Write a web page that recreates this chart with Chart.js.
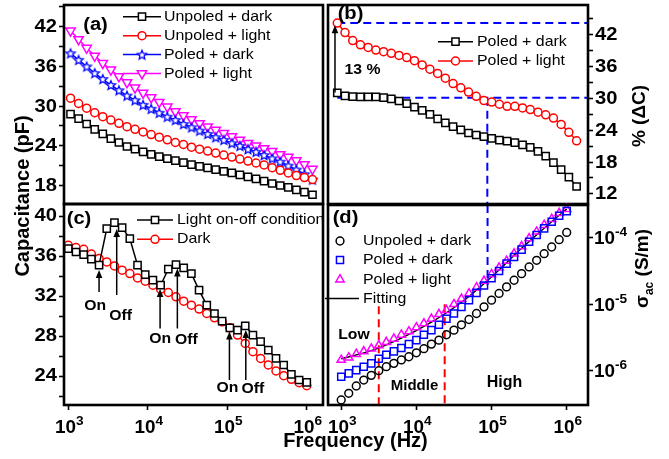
<!DOCTYPE html>
<html>
<head>
<meta charset="utf-8">
<script src="https://cdn.jsdelivr.net/npm/chart.js"></script>
<style>
html,body{margin:0;padding:0;background:#fff;}
#wrap{position:relative;width:669px;height:459px;overflow:hidden;background:#fff;}
#wrap canvas{position:absolute;left:0;top:0;}
</style>
</head>
<body>
<div id="wrap">
<canvas id="cA" width="669" height="459"></canvas>
<canvas id="cB" width="669" height="459"></canvas>
<canvas id="cC" width="669" height="459"></canvas>
<canvas id="cD" width="669" height="459"></canvas>
</div>
<script>
// ================= DATA =================
// Frequencies (Hz)
const freqA = [1000,1259,1585,1995,2512,3162,3981,5012,6310,7943,10000,12589,15849,19953,25119,31623,39811,50119,63096,79433,100000,125893,158489,199526,251189,316228,398107,501187,630957,794328,1000000];
const freqC = [1000,1250,1561,1951,2438,3047,3807,4757,5944,7430,9284,11601,14497,18116,22637,28290,35350,44173,55200,68970,86190,107700,134600,168200,210200,262600,328100,410100,512400,640400,800200,1000000];

// (a) Capacitance (pF)
const unpoledDarkA  = [28.8,28.1,27.3,26.5,25.8,25.1,24.5,23.9,23.5,23.1,22.7,22.35,22.05,21.75,21.45,21.15,20.9,20.65,20.4,20.15,19.9,19.6,19.3,19.0,18.65,18.3,18.0,17.7,17.35,17.0,16.6];
const unpoledLightA = [31.2,30.4,29.7,29.0,28.4,27.9,27.4,26.9,26.5,26.1,25.7,25.3,24.9,24.5,24.2,23.8,23.5,23.2,22.9,22.6,22.3,22.0,21.7,21.4,21.1,20.7,20.3,19.9,19.5,19.2,18.9];
const poledDarkA    = [38.0,37.0,36.0,35.0,34.1,33.2,32.4,31.6,30.9,30.2,29.6,29.0,28.4,27.9,27.3,26.8,26.3,25.8,25.3,24.9,24.4,24.0,23.5,23.1,22.6,22.1,21.6,21.0,20.4,19.7,18.9];
const poledLightA   = [41.4,40.1,38.8,37.6,36.5,35.5,34.5,33.6,32.8,32.0,31.3,30.6,29.9,29.2,28.6,28.0,27.4,26.9,26.4,25.9,25.4,24.9,24.4,24.0,23.6,23.2,22.7,22.3,21.8,21.2,20.5];

// (b) % (ΔC)
const poledDarkB  = [31.03,30.46,30.33,30.27,30.27,30.27,30.14,29.89,29.51,29.0,28.37,27.73,26.97,26.15,25.39,24.69,24.05,23.48,23.10,22.79,22.47,22.15,21.96,21.65,21.26,20.76,20.0,19.11,17.90,16.57,15.18,13.40];
const poledLightB = [44.2,42.4,40.9,40.1,39.6,39.1,38.8,38.5,38.1,37.7,37.1,36.3,35.5,34.7,33.8,32.8,32.0,31.2,30.4,29.6,29.3,28.9,28.5,28.5,28.2,27.9,27.4,26.9,26.3,25.1,23.6,22.0];
const refLevelsB = [44.2, 30.1];
const refFreqB = 76000;
const arrowB = [936, 31.1, 43.8];           // freq, base, tip

// (c) Capacitance (pF)
const lightOnOffC = [36.74,36.4,36.14,35.68,35.08,38.74,39.33,38.84,37.74,35.08,34.14,33.58,33.08,34.68,35.14,34.81,34.24,32.58,31.08,30.25,29.49,28.82,28.59,29.02,28.09,27.43,26.59,25.76,25.10,24.17,23.6,23.37];
const darkC       = [37.07,36.85,36.67,36.2,35.74,35.41,35.01,34.58,34.24,33.81,33.48,33.08,32.68,32.35,31.92,31.48,31.08,30.69,30.25,29.82,29.42,28.82,28.09,27.26,26.43,25.76,25.10,24.50,24.03,23.67,23.33,23.03];
const arrowFreqC = [2438, 4065, 14280, 23550, 106400, 171000];
const arrowBaseC = [32.4, 32.1, 28.75, 28.75, 23.6, 23.6];
const arrowTipC  = [34.6, 38.7, 32.7, 34.75, 28.45, 28.6];
const arrowTextC = ['On','Off','On','Off','On','Off'];

// (d) σac (S/m)
const unpoledDarkD = [3.63e-7,4.57e-7,5.89e-7,7.24e-7,8.51e-7,1.00e-6,1.15e-6,1.29e-6,1.45e-6,1.62e-6,1.86e-6,2.14e-6,2.51e-6,2.88e-6,3.47e-6,4.07e-6,4.90e-6,5.89e-6,7.24e-6,9.12e-6,1.15e-5,1.45e-5,1.82e-5,2.29e-5,2.88e-5,3.63e-5,4.57e-5,5.75e-5,7.24e-5,9.33e-5,1.20e-4];
const poledDarkD   = [8.13e-7,9.12e-7,1.02e-6,1.15e-6,1.29e-6,1.51e-6,1.74e-6,1.95e-6,2.19e-6,2.51e-6,2.88e-6,3.47e-6,4.07e-6,4.90e-6,6.03e-6,7.24e-6,9.12e-6,1.15e-5,1.48e-5,1.91e-5,2.45e-5,3.16e-5,4.07e-5,5.13e-5,6.61e-5,8.71e-5,1.10e-4,1.38e-4,1.74e-4,2.14e-4,2.51e-4];
const poledLightD  = [1.45e-6,1.58e-6,1.78e-6,1.95e-6,2.14e-6,2.40e-6,2.69e-6,3.02e-6,3.47e-6,3.89e-6,4.47e-6,5.13e-6,6.03e-6,7.08e-6,8.13e-6,1.00e-5,1.20e-5,1.45e-5,1.78e-5,2.24e-5,2.82e-5,3.55e-5,4.47e-5,5.75e-5,7.41e-5,9.77e-5,1.23e-4,1.55e-4,1.91e-4,2.34e-4,2.69e-4];
const fitFreqD = [1000, 2512, 6310, 15849, 39811, 100000, 251189, 630957, 1000000];
const fitD     = [1.51e-6, 2.0e-6, 3.09e-6, 5.37e-6, 1.07e-5, 2.57e-5, 6.92e-5, 1.74e-4, 2.69e-4];
const regionFreqD = [3160, 23800];
const regionTopD  = [9.3e-6, 1.0e-5];
const refFreqD = 88500;
const refBottomD = 1.95e-5;

// Tick values / labels
const xTicksLog = [1e3, 1e4, 1e5, 1e6];
const yTicksA = [18,21,24,27,30,33,36,39,42,45], yLabelsA = [18,24,30,36,42];
const yTicksB = [12,15,18,21,24,27,30,33,36,39,42,45], yLabelsB = [12,18,24,30,36,42];
const yTicksC = [22,24,26,28,30,32,34,36,38,40], yLabelsC = [24,28,32,36,40];
const yTicksD = [1e-6, 1e-5, 1e-4];

// Axis ranges
const rangeXA = [830, 1.35e6],  rangeYA = [15.2, 45.3];
const rangeXB = [765, 1.39e6],  rangeYB = [10.1, 47.6];
const rangeXC = [883, 1.6e6],   rangeYC = [21.1, 41.2];
const rangeXD = [667, 1.92e6],  rangeYD = [3.05e-7, 3.1e-4];

// ================= HELPERS =================
const FONT = '"Liberation Sans", Arial, Helvetica, sans-serif';
const BLACK = '#000000', RED = '#ff0000', BLUE = '#0000ff', MAG = '#ff00ff';

function txt(ctx, s, x, y, o) {
  o = o || {};
  ctx.save();
  ctx.translate(x, y);
  if (o.rot) ctx.rotate(o.rot);
  ctx.scale(o.sx || 1, 1);
  ctx.font = (o.bold === false ? '' : 'bold ') + (o.size || 18) + 'px ' + FONT;
  ctx.fillStyle = o.color || '#000';
  ctx.textAlign = o.align || 'center';
  ctx.textBaseline = o.base || 'middle';
  ctx.fillText(s, 0, 0);
  ctx.restore();
}
function rich(ctx, segs, x, y, o) {
  o = o || {};
  ctx.save();
  ctx.translate(x, y);
  if (o.rot) ctx.rotate(o.rot);
  ctx.scale(o.sx || 1, 1);
  ctx.fillStyle = o.color || '#000';
  ctx.textAlign = 'left';
  ctx.textBaseline = 'alphabetic';
  const fonts = segs.map(s => (s.bold === false ? '' : 'bold ') + s.size + 'px ' + FONT);
  const widths = segs.map((s, i) => { ctx.font = fonts[i]; return ctx.measureText(s.t).width; });
  const total = widths.reduce((a, b) => a + b, 0);
  let cx = o.align === 'center' ? -total / 2 : (o.align === 'right' ? -total : 0);
  segs.forEach((s, i) => { ctx.font = fonts[i]; ctx.fillText(s.t, cx, s.dy || 0); cx += widths[i]; });
  ctx.restore();
}
function arrowUp(ctx, x, yBase, yTip) {
  const hl = 8, hw = 3.3;
  ctx.save();
  ctx.strokeStyle = '#000'; ctx.fillStyle = '#000'; ctx.lineWidth = 1.5;
  ctx.beginPath(); ctx.moveTo(x, yBase); ctx.lineTo(x, yTip + hl - 1); ctx.stroke();
  ctx.beginPath(); ctx.moveTo(x, yTip); ctx.lineTo(x - hw, yTip + hl); ctx.lineTo(x + hw, yTip + hl); ctx.closePath(); ctx.fill();
  ctx.restore();
}
function frame(chart) {
  const a = chart.chartArea, ctx = chart.ctx;
  ctx.save(); ctx.strokeStyle = '#000'; ctx.lineWidth = 2.6;
  ctx.strokeRect(a.left, a.top, a.right - a.left, a.bottom - a.top);
  ctx.restore();
}
function marker(ctx, ds, x, y) {
  ctx.save();
  ctx.strokeStyle = ds.pointBorderColor; ctx.fillStyle = ds.pointBackgroundColor; ctx.lineWidth = ds.pointBorderWidth;
  const opts = {pointStyle: ds.pointStyle, rotation: ds.pointRotation || 0, radius: ds.pointRadius, borderWidth: ds.pointBorderWidth};
  if (Chart.helpers && Chart.helpers.drawPoint) Chart.helpers.drawPoint(ctx, opts, x, y);
  else { ctx.beginPath(); ctx.arc(x, y, ds.pointRadius, 0, 2 * Math.PI); ctx.fill(); ctx.stroke(); }
  ctx.restore();
}
function legendRow(ctx, ds, x0, x1, y, tx) {
  ctx.save();
  if (x1 > x0 && ds.showLine !== false) {
    ctx.strokeStyle = ds.borderColor; ctx.lineWidth = ds.borderWidth;
    ctx.beginPath(); ctx.moveTo(x0, y); ctx.lineTo(x1, y); ctx.stroke();
  }
  ctx.restore();
  if (ds.pointRadius > 0) marker(ctx, ds, (x0 + x1) / 2, y);
  txt(ctx, ds.label, tx, y, {size: 15, bold: false, align: 'left', sx: 1.06});
}
function makeStar(color, r) {
  const c = document.createElement('canvas');
  const s = Math.ceil(2 * r + 4); c.width = s; c.height = s;
  const g = c.getContext('2d');
  g.translate(s / 2, s / 2 + 0.5);
  g.beginPath();
  for (let k = 0; k < 10; k++) {
    const rr = k % 2 ? r * 0.45 : r;
    const a = -Math.PI / 2 + k * Math.PI / 5;
    g.lineTo(rr * Math.cos(a), rr * Math.sin(a));
  }
  g.closePath(); g.fillStyle = '#fff'; g.fill();
  g.lineWidth = 1.3; g.strokeStyle = color; g.stroke();
  return c;
}
function ser(label, xs, ys, color, style, r, extra) {
  return Object.assign({
    label, data: xs.map((x, i) => ({x, y: ys[i]})),
    borderColor: color, backgroundColor: color, borderWidth: 1.5,
    pointStyle: style, pointRadius: r, pointHoverRadius: r, pointBorderColor: color,
    pointBackgroundColor: '#fff', pointBorderWidth: 1.5, tension: 0, fill: false, clip: false
  }, extra || {});
}
function dashLine(xs, ys, color) {
  return { label: '', data: xs.map((x, i) => ({x, y: ys[i]})), borderColor: color, borderWidth: 2,
    borderDash: [8, 5], pointRadius: 0, fill: false, tension: 0, order: 10, clip: false };
}
function axis(type, pos, range, ticks, fixed, tickLen) {
  return {
    type, position: pos, min: range[0], max: range[1], bounds: 'data',
    afterBuildTicks: s => { s.ticks = ticks.map(v => ({value: v})); },
    afterFit: s => { if (pos === 'left' || pos === 'right') s.width = fixed; else s.height = fixed; },
    grid: { display: true, drawOnChartArea: false, drawTicks: tickLen > 0, tickLength: tickLen || 0,
            tickWidth: 1.6, tickColor: '#000', color: '#000' },
    border: { display: false },
    ticks: { display: false, autoSkip: false }
  };
}
function mkChart(id, datasets, pad, xs, ys, deco) {
  return new Chart(document.getElementById(id), {
    type: 'line',
    data: { datasets },
    options: {
      responsive: false, maintainAspectRatio: false, animation: false, devicePixelRatio: 1, events: [],
      layout: { padding: pad, autoPadding: false },
      plugins: { legend: { display: false }, tooltip: { enabled: false } },
      scales: { x: xs, y: ys }
    },
    plugins: [{ id: 'deco' + id, afterDraw: deco }]
  });
}
function linLabels(chart, labels, side) {
  const s = chart.scales.y, a = chart.chartArea, ctx = chart.ctx;
  labels.forEach(v => {
    const y = s.getPixelForValue(v);
    if (side === 'left') txt(ctx, String(v), a.left - 7, y + 0.5, {size: 18, align: 'right', sx: 1.12});
    else txt(ctx, String(v), a.right + 7, y + 0.5, {size: 18, align: 'left', sx: 1.12});
  });
}
function logXLabels(chart) {
  const s = chart.scales.x, ctx = chart.ctx;
  xTicksLog.forEach(v => {
    const e = Math.round(Math.log10(v));
    rich(ctx, [{t: '10', size: 18}, {t: String(e), size: 13, dy: -8}], s.getPixelForValue(v) + 1, 433, {align: 'center', sx: 1.05});
  });
}

// ================= PANEL (a) =================
const starBlue = makeStar(BLUE, 4.8);
mkChart('cA', [
  ser('Unpoled + dark', freqA, unpoledDarkA, BLACK, 'rect', 5.1),
  ser('Unpoled + light', freqA, unpoledLightA, RED, 'circle', 4),
  ser('Poled + dark', freqA, poledDarkA, BLUE, starBlue, 4.8),
  ser('Poled + light', freqA, poledLightA, MAG, 'triangle', 5.4, {pointRotation: 180})
], {left: 24, right: 346, top: 5, bottom: 255},
  axis('logarithmic', 'bottom', rangeXA, xTicksLog, 0, 0),
  axis('linear', 'left', rangeYA, yTicksA, 40, 5),
  function (chart) {
    const ctx = chart.ctx, ds = chart.data.datasets;
    linLabels(chart, yLabelsA, 'left');
    txt(ctx, '(a)', 95.5, 25, {size: 18, sx: 1.12});
    const rows = [16.7, 35.7, 54.6, 73.5];
    for (let i = 0; i < 4; i++) legendRow(ctx, ds[i], 123, 161, rows[i], 164);
    frame(chart);
  });

// ================= PANEL (b) =================
mkChart('cB', [
  ser('Poled + dark', freqC, poledDarkB, BLACK, 'rect', 5.1),
  ser('Poled + light', freqC, poledLightB, RED, 'circle', 4),
  dashLine([freqC[0], rangeXB[1]], [refLevelsB[0], refLevelsB[0]], BLUE),
  dashLine([freqC[0], rangeXB[1]], [refLevelsB[1], refLevelsB[1]], BLUE),
  dashLine([refFreqB, refFreqB], [refLevelsB[1], rangeYB[0]], BLUE)
], {left: 328, right: 41, top: 5, bottom: 255},
  axis('logarithmic', 'bottom', rangeXB, xTicksLog, 0, 0),
  axis('linear', 'right', rangeYB, yTicksB, 40, 5),
  function (chart) {
    const ctx = chart.ctx, ds = chart.data.datasets, xs = chart.scales.x, ys = chart.scales.y;
    linLabels(chart, yLabelsB, 'right');
    txt(ctx, '(b)', 350.5, 14, {size: 18, sx: 1.12});
    legendRow(ctx, ds[0], 438, 473, 41.7, 477);
    legendRow(ctx, ds[1], 438, 473, 61, 477);
    arrowUp(ctx, xs.getPixelForValue(arrowB[0]), ys.getPixelForValue(arrowB[1]), ys.getPixelForValue(arrowB[2]));
    txt(ctx, '13 %', 362.5, 70, {size: 15, sx: 1.05});
    txt(ctx, '% (\u0394C)', 645, 116, {size: 19, rot: -Math.PI / 2, base: 'alphabetic'});
    frame(chart);
  });

// ================= PANEL (c) =================
mkChart('cC', [
  ser('Light on-off condition', freqC, lightOnOffC, BLACK, 'rect', 5.1),
  ser('Dark', freqC, darkC, RED, 'circle', 4)
], {left: 24, right: 346, top: 204, bottom: 34},
  axis('logarithmic', 'bottom', rangeXC, xTicksLog, 20, 5),
  axis('linear', 'left', rangeYC, yTicksC, 40, 5),
  function (chart) {
    const ctx = chart.ctx, ds = chart.data.datasets, xs = chart.scales.x, ys = chart.scales.y;
    linLabels(chart, yLabelsC, 'left');
    logXLabels(chart);
    txt(ctx, '(c)', 79, 219.5, {size: 18, sx: 1.12});
    legendRow(ctx, ds[0], 137, 173, 220, 177);
    legendRow(ctx, ds[1], 137, 173, 239.3, 177);
    const labelOffsets = [[-4, 14], [4, 21], [0, 10], [9, 11], [-2, 8], [7, 9]];
    for (let i = 0; i < arrowFreqC.length; i++) {
      const x = xs.getPixelForValue(arrowFreqC[i]);
      const yb = ys.getPixelForValue(arrowBaseC[i]);
      arrowUp(ctx, x, yb, ys.getPixelForValue(arrowTipC[i]));
      txt(ctx, arrowTextC[i], x + labelOffsets[i][0], yb + labelOffsets[i][1], {size: 15, sx: 1.05});
    }
    txt(ctx, 'Capacitance (pF)', 29, 196, {size: 20, rot: -Math.PI / 2, base: 'alphabetic'});
    txt(ctx, 'Frequency (Hz)', 355.5, 447, {size: 20, base: 'alphabetic'});
    frame(chart);
  });

// ================= PANEL (d) =================
const clearFill = 'rgba(0,0,0,0)';
mkChart('cD', [
  ser('Unpoled + dark', freqA, unpoledDarkD, BLACK, 'circle', 3.9, {showLine: false, pointBackgroundColor: clearFill}),
  ser('Poled + dark', freqA, poledDarkD, BLUE, 'rect', 5, {showLine: false, pointBackgroundColor: clearFill}),
  ser('Poled + light', freqA, poledLightD, MAG, 'triangle', 4.8, {showLine: false, pointBackgroundColor: clearFill}),
  ser('Fitting', fitFreqD, fitD, BLACK, 'circle', 0, {cubicInterpolationMode: 'monotone', borderWidth: 1.4}),
  dashLine([regionFreqD[0], regionFreqD[0]], [regionTopD[0], rangeYD[0]], RED),
  dashLine([regionFreqD[1], regionFreqD[1]], [regionTopD[1], rangeYD[0]], RED),
  dashLine([refFreqD, refFreqD], [rangeYD[1], refBottomD], BLUE)
], {left: 328, right: 41, top: 205, bottom: 34},
  axis('logarithmic', 'bottom', rangeXD, xTicksLog, 20, 5),
  axis('logarithmic', 'right', rangeYD, yTicksD, 40, 5),
  function (chart) {
    const ctx = chart.ctx, ds = chart.data.datasets, ys = chart.scales.y, a = chart.chartArea;
    yTicksD.forEach(v => {
      const e = Math.round(Math.log10(v));
      rich(ctx, [{t: '10', size: 18}, {t: '-' + Math.abs(e), size: 13, dy: -8}], a.right + 6, ys.getPixelForValue(v) + 6.5, {align: 'left', sx: 1.05});
    });
    logXLabels(chart);
    txt(ctx, '(d)', 345.5, 218.5, {size: 18, sx: 1.12});
    legendRow(ctx, ds[0], 340, 340, 241, 363);
    legendRow(ctx, ds[1], 340, 340, 260, 363);
    legendRow(ctx, ds[2], 340, 340, 279.5, 363);
    legendRow(ctx, ds[3], 325, 359, 298.5, 363);
    txt(ctx, 'Low', 354, 335, {size: 15, sx: 1.05});
    txt(ctx, 'Middle', 414.5, 386, {size: 15});
    txt(ctx, 'High', 504.5, 382.5, {size: 16});
    rich(ctx, [{t: '\u03C3', size: 19}, {t: 'ac', size: 12, dy: 5}, {t: ' (S/m)', size: 19}], 648, 268.5, {align: 'center', rot: -Math.PI / 2});
    frame(chart);
  });
</script>
</body>
</html>
